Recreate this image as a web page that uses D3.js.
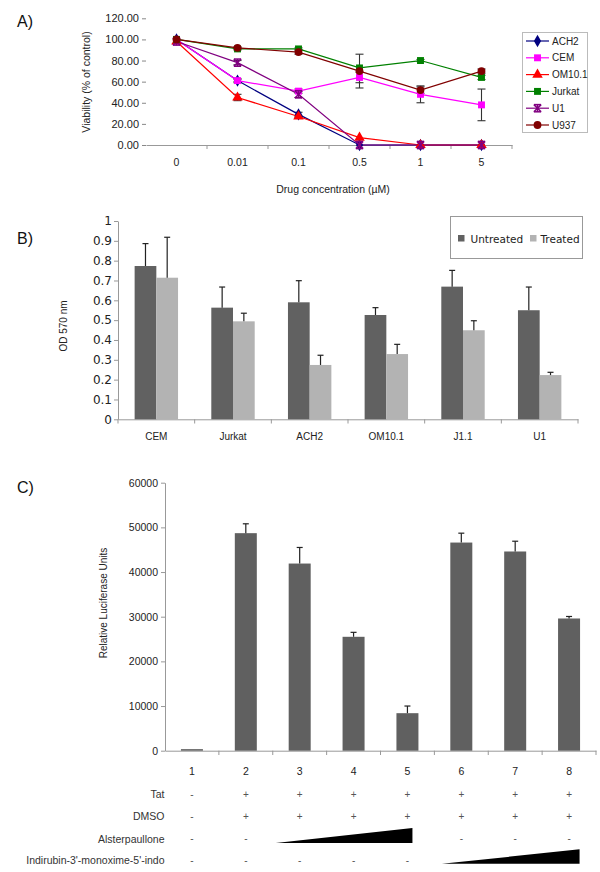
<!DOCTYPE html>
<html><head><meta charset="utf-8">
<script src="https://cdn.jsdelivr.net/npm/d3@7"></script>
<style>body{margin:0;background:#fff}svg{display:block}</style>
</head><body>
<svg id="c" width="600" height="872"></svg>
<script>
// ---------- Panel A data ----------
const concLabels = ["0","0.01","0.1","0.5","1","5"];
const seriesNames = ["ACH2","CEM","OM10.1","Jurkat","U1","U937"];
const ach2   = [100, 61, 29, 0, 0, 0];
const cem    = [100, 61, 51, 64, 48, 38];
const om101  = [98, 45, 27, 7, 0, 0];
const jurkat = [100, 91, 91, 73, 80, 64];
const u1     = [98, 78, 48, 0, 0, 0];
const u937   = [100, 92, 88, 70, 52, 70];
const ach2Err   = [0, 1, 2, 0, 0, 0];
const cemErr    = [0, 2, 2, 5, 8, 15];
const om101Err  = [0, 3, 1, 0, 0, 0];
const jurkatErr = [0, 1, 1, 0, 1, 2];
const u1Err     = [0, 2, 3, 0, 0, 0];
const u937Err   = [0, 1, 2, 16, 3, 2];
const viabTicks = [0, 20, 40, 60, 80, 100, 120];

// ---------- Panel B data ----------
const cellLines = ["CEM","Jurkat","ACH2","OM10.1","J1.1","U1"];
const untreated    = [0.773, 0.563, 0.590, 0.526, 0.669, 0.550];
const untreatedErr = [0.113, 0.104, 0.109, 0.037, 0.082, 0.117];
const treated      = [0.714, 0.494, 0.274, 0.329, 0.449, 0.223];
const treatedErr   = [0.204, 0.041, 0.049, 0.049, 0.048, 0.014];
const odTicks = [0,0.1,0.2,0.3,0.4,0.5,0.6,0.7,0.8,0.9,1];

// ---------- Panel C data ----------
const lanes = ["1","2","3","4","5","6","7","8"];
const luc    = [350, 48700, 41900, 25500, 8400, 46600, 44600, 29600];
const lucErr = [0, 2100, 3600, 1000, 1600, 2100, 2300, 450];
const lucTicks = [0,10000,20000,30000,40000,50000,60000];
const rowLabels = ["Tat","DMSO","Alsterpaullone","Indirubin-3'-monoxime-5'-indo"];
const tatRow   = ["-","+","+","+","+","+","+","+"];
const dmsoRow  = ["-","+","+","+","+","+","+","+"];
const alsterRow= ["-","-","","","","-","-","-"];
const indiRow  = ["-","-","-","-","-","","",""];
const alsterWedge = ["3","5"];
const indiWedge = ["6","8"];

const svg = d3.select("#c");
const F = "'Liberation Sans', Arial, sans-serif";
const FD = "'DejaVu Sans', sans-serif";

function txt(g, x, y, s, o={}) {
  return g.append("text").attr("x", x).attr("y", y).text(s)
    .attr("font-family", o.ff || F).attr("font-size", o.fs || 10)
    .attr("fill", o.fill || "#222").attr("text-anchor", o.anchor || "middle")
    .attr("dominant-baseline", "central");
}

// panel letters
txt(svg, 17, 21, "A)", {fs:16, anchor:"start", fill:"#111"});
txt(svg, 17, 238, "B)", {fs:16, anchor:"start", fill:"#111"});
txt(svg, 17, 487, "C)", {fs:16, anchor:"start", fill:"#111"});

// ================= Panel A =================
{
  const g = svg.append("g");
  const x = d3.scaleBand().domain(concLabels).range([146, 512]).padding(0);
  const y = d3.scaleLinear().domain([0,120]).range([145, 18.3]);
  const ya = g.append("g").attr("transform","translate(146,0)")
    .call(d3.axisLeft(y).tickValues(viabTicks).tickSize(4).tickFormat(d3.format(".2f")));
  ya.select(".domain").remove();
  ya.selectAll(".tick line").attr("stroke","#888");
  ya.selectAll(".tick text").attr("font-family",F).attr("font-size",11).attr("fill","#222").attr("x",-7);
  const xa = g.append("g").attr("transform","translate(0,145)")
    .call(d3.axisBottom(x).tickSize(0).tickSizeOuter(0));
  xa.select(".domain").attr("stroke","#999");
  xa.selectAll(".tick text").attr("font-family",F).attr("font-size",10.5).attr("fill","#222").attr("dy",0).attr("y",20.5);
  g.selectAll("line.bt").data(concLabels).join("line")
    .attr("x1", d=>x(d)+x.bandwidth()).attr("x2",d=>x(d)+x.bandwidth())
    .attr("y1",145).attr("y2",149).attr("stroke","#999");
  txt(g, 333, 188.5, "Drug concentration (µM)", {fs:10.5});
  txt(g, 0, 0, "Viability (% of control)", {fs:10.5}).attr("transform","translate(86,82) rotate(-90)");

  const colors = ["#000080","#ff00ff","#ff0000","#008000","#800080","#800000"];
  const vals = [ach2, cem, om101, jurkat, u1, u937];
  const errs = [ach2Err, cemErr, om101Err, jurkatErr, u1Err, u937Err];
  const syms = [d3.symbolDiamond, d3.symbolSquare, d3.symbolTriangle, d3.symbolSquare, "star", d3.symbolCircle];
  const sizes = [44, 48, 48, 48, 48, 48];
  const cx = i => x(concLabels[i]) + x.bandwidth()/2;
  vals.forEach((v,s)=>{
    v.forEach((d,i)=>{
      const e = errs[s][i]; if(!e) return;
      const eg = g.append("g").attr("stroke","#333").attr("stroke-width",1.1);
      eg.append("line").attr("x1",cx(i)).attr("x2",cx(i)).attr("y1",y(d-e)).attr("y2",y(d+e));
      [d-e,d+e].forEach(t=>eg.append("line").attr("x1",cx(i)-4).attr("x2",cx(i)+4).attr("y1",y(t)).attr("y2",y(t)));
    });
  });
  const line = d3.line().x((d,i)=>cx(i)).y(d=>y(d));
  function marker(gg, sx, sy, s, c) {
    if (syms[s] === "star") {
      const r = 3.6;
      const m = gg.append("g").attr("stroke", c).attr("stroke-width",1.5);
      m.append("line").attr("x1",sx-r).attr("x2",sx+r).attr("y1",sy-r).attr("y2",sy+r);
      m.append("line").attr("x1",sx-r).attr("x2",sx+r).attr("y1",sy+r).attr("y2",sy-r);
      m.append("line").attr("x1",sx).attr("x2",sx).attr("y1",sy-r).attr("y2",sy+r);
      m.append("line").attr("x1",sx-r).attr("x2",sx+r).attr("y1",sy-r).attr("y2",sy-r);
      m.append("line").attr("x1",sx-r).attr("x2",sx+r).attr("y1",sy+r).attr("y2",sy+r);
    } else {
      gg.append("path").attr("d", d3.symbol().type(syms[s]).size(sizes[s])())
        .attr("transform",`translate(${sx},${sy})`).attr("fill",c);
    }
  }
  vals.forEach((v,s)=>{
    g.append("path").attr("d", line(v)).attr("fill","none").attr("stroke",colors[s]).attr("stroke-width",1.2);
  });
  vals.forEach((v,s)=>{
    v.forEach((d,i)=> marker(g, cx(i), y(d), s, colors[s]));
  });
  const lg = g.append("g");
  lg.append("rect").attr("x",522.5).attr("y",32.5).attr("width",65).attr("height",100)
    .attr("fill","#fff").attr("stroke","#bbb");
  seriesNames.forEach((n,s)=>{
    const ly = 41 + s*16.8;
    lg.append("line").attr("x1",526).attr("x2",549).attr("y1",ly).attr("y2",ly).attr("stroke",colors[s]).attr("stroke-width",1.2);
    marker(lg, 537.5, ly, s, colors[s]);
    txt(lg, 552, ly, n, {anchor:"start", fs:10});
  });
}

// ================= Panel B =================
{
  const g = svg.append("g");
  const x = d3.scaleBand().domain(cellLines).range([118, 578]).padding(0);
  const y = d3.scaleLinear().domain([0,1]).range([419.3, 221]);
  const ya = g.append("g").attr("transform","translate(118,0)")
    .call(d3.axisLeft(y).tickValues(odTicks).tickSize(4).tickSizeOuter(0).tickFormat(d=>String(+d.toFixed(1))));
  ya.select(".domain").attr("stroke","#999");
  ya.selectAll(".tick line").attr("stroke","#999");
  ya.selectAll(".tick text").attr("font-family",FD).attr("font-size",12).attr("fill","#222").attr("x",-6);
  const xa = g.append("g").attr("transform","translate(0,419.3)")
    .call(d3.axisBottom(x).tickSize(0).tickSizeOuter(0));
  xa.select(".domain").attr("stroke","#999");
  xa.selectAll(".tick text").attr("font-family",F).attr("font-size",10).attr("fill","#222").attr("dy",0).attr("y",20.5);
  g.selectAll("line.bt").data(cellLines).join("line")
    .attr("x1",d=>x(d)+x.bandwidth()).attr("x2",d=>x(d)+x.bandwidth())
    .attr("y1",419.3).attr("y2",423.5).attr("stroke","#999");
  g.append("line").attr("x1",118).attr("x2",118).attr("y1",419.3).attr("y2",423.5).attr("stroke","#999");
  txt(g,0,0,"OD 570 nm",{fs:10}).attr("transform","translate(63,326) rotate(-90)");
  const bw = 21.7;
  const groups = [[untreated, untreatedErr, "#616161", -bw], [treated, treatedErr, "#b3b3b3", 0]];
  groups.forEach(([v, e, c, off])=>{
    g.selectAll(null).data(v).join("rect")
      .attr("x",(d,i)=>x(cellLines[i])+x.bandwidth()/2+off).attr("width",bw)
      .attr("y",d=>y(d)).attr("height",d=>y(0)-y(d)).attr("fill",c);
    v.forEach((d,i)=>{
      const ex = x(cellLines[i])+x.bandwidth()/2+off+bw/2;
      g.append("line").attr("x1",ex).attr("x2",ex).attr("y1",y(d)).attr("y2",y(d+e[i])).attr("stroke","#222").attr("stroke-width",1.2);
      g.append("line").attr("x1",ex-3).attr("x2",ex+3).attr("y1",y(d+e[i])).attr("y2",y(d+e[i])).attr("stroke","#222").attr("stroke-width",1.2);
    });
  });
  g.append("rect").attr("x",450.5).attr("y",216.5).attr("width",132).attr("height",42).attr("fill","#fff").attr("stroke","#999");
  g.append("rect").attr("x",458).attr("y",235).attr("width",6.5).attr("height",6.5).attr("fill","#616161");
  txt(g,470.5,238.5,"Untreated",{anchor:"start",ff:FD,fs:10.5});
  g.append("rect").attr("x",530).attr("y",235).attr("width",6.5).attr("height",6.5).attr("fill","#b3b3b3");
  txt(g,540.5,238.5,"Treated",{anchor:"start",ff:FD,fs:10.5});
}

// ================= Panel C =================
{
  const g = svg.append("g");
  const x = d3.scaleBand().domain(lanes).range([165, 596]).padding(0);
  const y = d3.scaleLinear().domain([0,60000]).range([750.7, 482.7]);
  const ya = g.append("g").attr("transform","translate(165,0)")
    .call(d3.axisLeft(y).tickValues(lucTicks).tickSize(4).tickSizeOuter(0).tickFormat(d3.format("d")));
  ya.select(".domain").attr("stroke","#999");
  ya.selectAll(".tick line").attr("stroke","#999");
  ya.selectAll(".tick text").attr("font-family",F).attr("font-size",10.5).attr("fill","#222").attr("x",-7);
  const xa = g.append("g").attr("transform","translate(0,750.7)")
    .call(d3.axisBottom(x).tickSize(0).tickSizeOuter(0));
  xa.select(".domain").attr("stroke","#999");
  xa.selectAll(".tick text").attr("font-family",F).attr("font-size",10.5).attr("fill","#222").attr("dy",0).attr("y",24.5);
  g.selectAll("line.bt").data(lanes).join("line")
    .attr("x1",d=>x(d)+x.bandwidth()).attr("x2",d=>x(d)+x.bandwidth())
    .attr("y1",750.7).attr("y2",755).attr("stroke","#999");
  txt(g,0,0,"Relative Luciferase Units",{fs:10}).attr("transform","translate(103,603) rotate(-90)");
  const bw = 22;
  g.selectAll(null).data(luc).join("rect")
    .attr("x",(d,i)=>x(lanes[i])+x.bandwidth()/2-bw/2).attr("width",bw)
    .attr("y",d=>y(d)).attr("height",d=>y(0)-y(d)).attr("fill","#606060");
  luc.forEach((d,i)=>{
    if(!lucErr[i]) return;
    const ex = x(lanes[i])+x.bandwidth()/2;
    g.append("line").attr("x1",ex).attr("x2",ex).attr("y1",y(d)).attr("y2",y(d+lucErr[i])).attr("stroke","#222").attr("stroke-width",1.2);
    g.append("line").attr("x1",ex-3).attr("x2",ex+3).attr("y1",y(d+lucErr[i])).attr("y2",y(d+lucErr[i])).attr("stroke","#222").attr("stroke-width",1.2);
  });
  const rows = [tatRow, dmsoRow, alsterRow, indiRow];
  const rowY = [794.4, 816.3, 838.5, 860.3];
  rows.forEach((r,ri)=>{
    txt(g, 164.5, rowY[ri], rowLabels[ri], {anchor:"end", fs:10.5, fill:"#333"});
    r.forEach((s,i)=>{ if(s) txt(g, x(lanes[i])+x.bandwidth()/2, rowY[ri], s, {fs:10, fill:"#555"}); });
  });
  const wedge = (w, yb, h, startOff, endOff) => {
    const x0 = x(w[0]) + startOff, x1 = x(w[1]) + x.bandwidth()/2 + endOff;
    g.append("path").attr("d", `M${x0},${yb}L${x1},${yb}L${x1},${yb-h}Z`).attr("fill","#000");
  };
  wedge(alsterWedge, 843, 15, 3, 5);
  wedge(indiWedge, 863.8, 14.5, 7.5, 10.5);
}
</script>
</body></html>
